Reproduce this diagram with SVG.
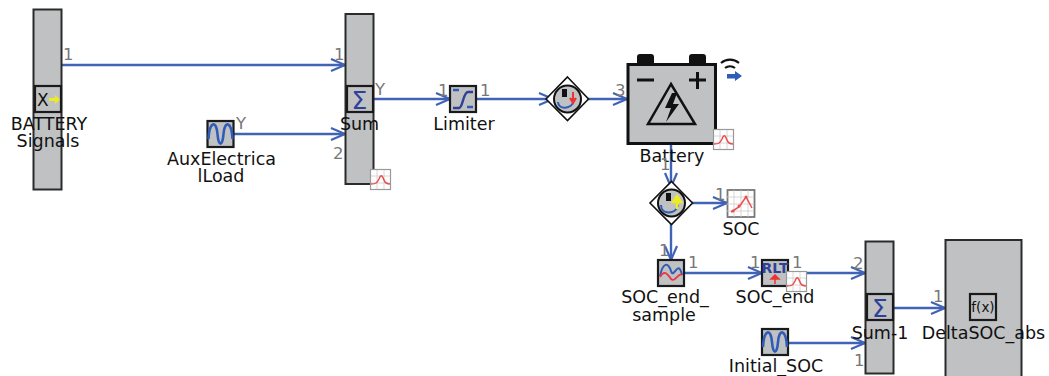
<svg xmlns="http://www.w3.org/2000/svg" width="1049" height="376" viewBox="0 0 1049 376">
<style>
text{font-family:"DejaVu Sans",sans-serif}
.l{font-size:17.500px;fill:#111;text-anchor:middle}
.p{font-size:16.500px;fill:#777}
.b{fill:#bfc1c2;stroke:#2b2b2b;stroke-width:2}
.i{fill:#bfc1c2;stroke:#1a1a1a;stroke-width:2.200}
.c{fill:none;stroke:#4163b6;stroke-width:2.400}
.r{fill:none;stroke:#ee4c4c;stroke-width:1.500}
.k{fill:#fff;stroke:#999;stroke-width:1.200}
.m{stroke:#ccc;stroke-width:.8;fill:none}
</style>
<defs>
<marker id="ah" markerUnits="userSpaceOnUse" markerWidth="18" markerHeight="16" refX="15" refY="8" orient="auto"><path d="M1 2L15 8L1 14" fill="none" stroke="#4163b6" stroke-width="2.200"/></marker>
<g id="chart"><rect class="k" x="0.500" y="0.500" width="20" height="20"/><path class="m" d="M7 1V20M14 1V20M1 7H20M1 14H20"/><path class="r" d="M1 15C6 15 7 14 9 10C11 5 12 6 14 11C15 14 17 15 20 15"/></g>
<g id="wave"><path d="M-12 5C-11 -13 -4 -14 -3 0C-2 13 2 13 3 0C4 -14 11 -13 12 5" fill="none" stroke="#2f5cb8" stroke-width="2.600"/></g>
</defs>
<g id="connectors">
<path class="c" marker-end="url(#ah)" d="M62 65H345"/>
<path class="c" marker-end="url(#ah)" d="M234 134H345"/>
<path class="c" marker-end="url(#ah)" d="M374 99H450"/>
<path class="c" marker-end="url(#ah)" d="M477 99H553"/>
<path class="c" marker-end="url(#ah)" d="M588 99H627"/>
<path class="c" marker-end="url(#ah)" d="M671 144V187"/>
<path class="c" marker-end="url(#ah)" d="M692 203H727"/>
<path class="c" marker-end="url(#ah)" d="M671 224V260"/>
<path class="c" marker-end="url(#ah)" d="M685 273H762"/>
<path class="c" marker-end="url(#ah)" d="M806 273H865"/>
<path class="c" marker-end="url(#ah)" d="M789 343H865"/>
<path class="c" marker-end="url(#ah)" d="M893 308H945"/>
</g>
<g id="battery-signals">
<rect class="b" x="33.500" y="9.500" width="28" height="180"/>
<rect class="i" x="35" y="86" width="26" height="26"/>
<text x="37" y="106" font-size="17" fill="#111">X</text>
<path d="M49 98H55V95L60 99.500L55 104V101H49Z" fill="#ecec20"/>
<text class="l" x="49" y="130">BATTERY</text>
<text class="l" x="48" y="147">Signals</text>
<text class="p" x="63" y="60">1</text>
</g>
<g id="aux-load">
<rect class="i" x="207.500" y="121" width="26" height="26"/>
<use href="#wave" x="220.500" y="134"/>
<text class="l" x="221.500" y="165">AuxElectrica</text>
<text class="l" x="221" y="182">lLoad</text>
<text class="p" x="236" y="129">Y</text>
</g>
<g id="sum">
<rect class="b" x="345.500" y="14" width="28" height="170"/>
<rect class="i" x="347" y="86" width="26" height="26"/>
<text x="359.500" y="109" font-size="25" fill="#2f4098" text-anchor="middle">Σ</text>
<text class="l" x="359.500" y="130">Sum</text>
<text class="p" x="334" y="60">1</text>
<text class="p" x="333" y="159">2</text>
<text class="p" x="375" y="95">Y</text>
<use href="#chart" x="370" y="169"/>
</g>
<g id="limiter">
<rect class="i" x="450" y="86" width="26" height="26"/>
<path d="M453 108H459C463 108 463 92 468 92H473" fill="none" stroke="#2f4098" stroke-width="2.400"/>
<path d="M453 90H459M467 107H473" stroke="#2f5cb8" stroke-width="2.600"/>
<text class="l" x="464" y="130">Limiter</text>
<text class="p" x="438" y="96">1</text>
<text class="p" x="480" y="96">1</text>
</g>
<g id="sensor-1">
<path d="M567.500 77L588.500 99L567.500 120.500L546 99Z" fill="#fff" stroke="#111" stroke-width="1.600"/>
<circle cx="567.500" cy="99" r="13.500" fill="#bfc1c2" stroke="#111" stroke-width="2"/>
<rect x="562" y="89" width="5" height="8" fill="#111"/>
<path d="M558 102C558 110 572 110 574 100" fill="none" stroke="#2f5cb8" stroke-width="2"/>
<path d="M573 92V100M570 98L573 103L576 98" fill="#ee3333" stroke="#ee3333" stroke-width="2"/>
</g>
<g id="battery">
<path d="M637 57Q637 54 640 54H651Q654 54 654 57V64H637ZM689 57Q689 54 692 54H703Q706 54 706 57V64H689Z" fill="#111"/>
<rect x="628" y="64.500" width="87.500" height="79" fill="#bfc1c2" stroke="#111" stroke-width="3"/>
<path d="M637 80H654M689 80H706M697.500 72V89" stroke="#111" stroke-width="3"/>
<path d="M671 84L648 124H695Z" fill="none" stroke="#111" stroke-width="2.500"/>
<path d="M672 93L665 108H671L666 122L679 104H673L677 93Z" fill="#111"/>
<text class="l" x="672" y="162">Battery</text>
<text class="p" x="615" y="96">3</text>
<text class="p" x="660" y="170">1</text>
<use href="#chart" x="713" y="129"/>
<path d="M721 63A14 14 0 0 1 739 63M725 68A8 8 0 0 1 735 68" fill="none" stroke="#111" stroke-width="2.200"/>
<path d="M727 74H735V71L742 76L735 81V78.500H727Z" fill="#2f5cb8"/>
</g>
<g id="sensor-2">
<path d="M671.500 181.500L692.500 203L671.500 224.500L650 203Z" fill="#fff" stroke="#111" stroke-width="1.600"/>
<circle cx="671.500" cy="203" r="13.500" fill="#bfc1c2" stroke="#111" stroke-width="2"/>
<rect x="666" y="193" width="5" height="8" fill="#111"/>
<path d="M661 205C661 215 676 215 678 205" fill="none" stroke="#2f5cb8" stroke-width="2"/>
<path d="M677 209V198M673 202L677 196L681 202Z" fill="#ecec20" stroke="#ecec20" stroke-width="2.500"/>
</g>
<g id="soc">
<rect x="727.500" y="190" width="27" height="27" fill="#fff" stroke="#777" stroke-width="1.800"/>
<path class="m" d="M734 190V217M741 190V217M748 190V217M727 197H754M727 204H754M727 211H754"/>
<path class="r" d="M731 212L739 207L746 197L752 208"/>
<circle cx="733" cy="211" r="1.500" fill="#ee4c4c"/><circle cx="739" cy="206" r="1.500" fill="#ee4c4c"/><circle cx="746" cy="197" r="1.500" fill="#ee4c4c"/>
<text class="l" x="741" y="235">SOC</text>
<text class="p" x="715" y="200">1</text>
</g>
<g id="soc-end-sample">
<rect class="i" x="658" y="260" width="26" height="26"/>
<path d="M660 276C663 262 668 262 671 271C674 280 678 258 682 275" fill="none" stroke="#2f5cb8" stroke-width="2"/>
<path d="M660 277C664 270 667 273 671 279C675 283 679 272 682 275" fill="none" stroke="#ee3344" stroke-width="1.800"/>
<text class="l" x="665" y="303">SOC_end_</text>
<text class="l" x="664" y="320.500">sample</text>
<text class="p" x="659" y="256">1</text>
<text class="p" x="688" y="268">1</text>
</g>
<g id="soc-end">
<rect class="i" x="762" y="260" width="26" height="26"/>
<text x="775" y="273" font-size="14" font-weight="bold" fill="#2f4098" text-anchor="middle">RLT</text>
<path d="M775 284V277M771 279L775 275L779 279Z" fill="#ee3333" stroke="#ee3333" stroke-width="1.500"/>
<text class="l" x="775" y="303">SOC_end</text>
<text class="p" x="750" y="268">1</text>
<text class="p" x="792" y="268">1</text>
<use href="#chart" x="786" y="271"/>
</g>
<g id="initial-soc">
<rect class="i" x="762" y="329" width="26" height="26"/>
<use href="#wave" x="775" y="342"/>
<text class="l" x="776" y="372">Initial_SOC</text>
</g>
<g id="sum-1">
<rect class="b" x="865.500" y="241.500" width="28" height="132"/>
<rect class="i" x="867" y="294" width="26" height="26"/>
<text x="880" y="317" font-size="25" fill="#2f4098" text-anchor="middle">Σ</text>
<text class="l" x="880" y="338.500">Sum-1</text>
<text class="p" x="853" y="269">2</text>
<text class="p" x="854" y="366">1</text>
</g>
<g id="deltasoc-abs">
<rect class="b" x="945.500" y="240" width="76" height="137"/>
<rect class="i" x="970" y="294" width="26" height="26"/>
<text x="983" y="312" font-size="13.500" fill="#111" text-anchor="middle">f(x)</text>
<text class="l" x="983.500" y="338.500">DeltaSOC_abs</text>
<text class="p" x="933" y="302">1</text>
</g>
</svg>
